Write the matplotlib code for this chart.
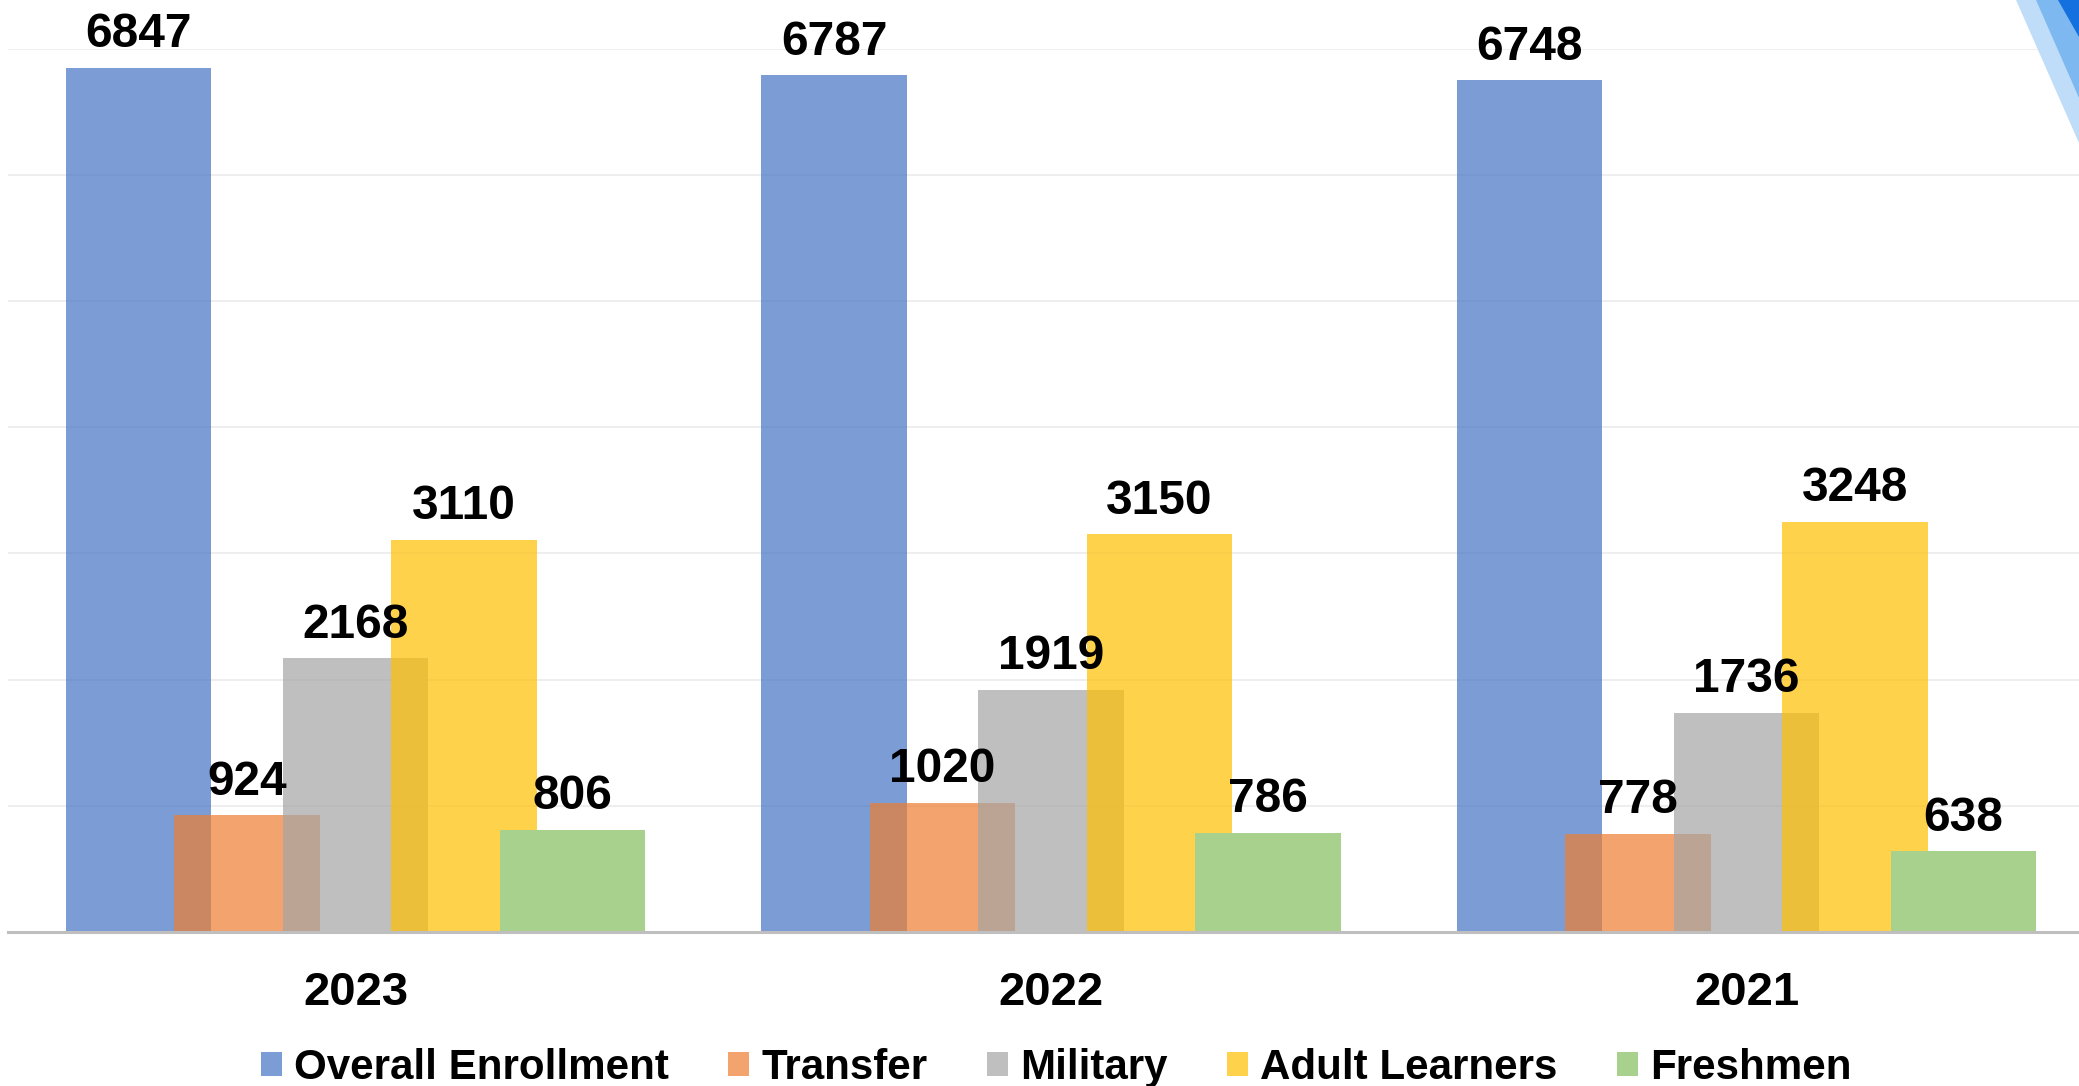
import numpy as np
import matplotlib.pyplot as plt
from matplotlib.patches import Polygon

# data
years = ["2023", "2022", "2021"]
series = ["Overall Enrollment", "Transfer", "Military", "Adult Learners", "Freshmen"]
overall = [6847, 6787, 6748]
transfer = [924, 1020, 778]
military = [2168, 1919, 1736]
adult = [3110, 3150, 3248]
freshmen = [806, 786, 638]

colors = ["#4472C4", "#ED7D31", "#A5A5A5", "#FFC000", "#A9D18E"]
alphas = [0.7, 0.7, 0.7, 0.7, 1.0]

plt.rcParams['font.family'] = ['Liberation Sans', 'DejaVu Sans']
plt.rcParams['font.weight'] = 'bold'

W, H = 2079, 1086
fig = plt.figure(figsize=(W / 100, H / 100), dpi=100)
ax = fig.add_axes([7.75 / W, (H - 932) / H, 2086.5 / W, 883.4 / H])

x = np.arange(len(years))
step = 0.156
width = 0.2085
values = [overall, transfer, military, adult, freshmen]

for i, (name, vals) in enumerate(zip(series, values)):
    pos = x + (i - 2) * step
    bars = ax.bar(pos, vals, width, color=colors[i], alpha=alphas[i], label=name,
                  zorder=2 + i, linewidth=0)
    for b, v in zip(bars, vals):
        ax.annotate(str(v), (b.get_x() + b.get_width() / 2, v),
                    xytext=(0, 15), textcoords='offset points',
                    ha='center', va='baseline', fontsize=34.5,
                    fontweight='bold', zorder=10, annotation_clip=False)

ax.set_xlim(-0.5, 2.5)
ax.set_ylim(0, 7000)
ax.set_yticks(range(0, 7001, 1000))
ax.yaxis.grid(True, color='#EDEDED', linewidth=1.3, zorder=0)
ax.set_axisbelow(True)
ax.tick_params(axis='y', left=False, labelleft=False)
ax.set_xticks(x)
ax.set_xticklabels(years, fontsize=34, fontweight='bold')
ax.tick_params(axis='x', length=0, pad=28)
for s in ['top', 'right', 'left']:
    ax.spines[s].set_visible(False)
ax.spines['bottom'].set_color('#BFBFBF')
ax.spines['bottom'].set_linewidth(2.2)
ax.spines['bottom'].set_zorder(20)

fig.legend(loc='center', bbox_to_anchor=(1056 / W, (H - 1068) / H), ncol=5,
           frameon=False, prop={'size': 30.3, 'weight': 'bold'},
           handlelength=0.5, handleheight=0.52, handletextpad=0.28,
           columnspacing=1.42, borderpad=0, borderaxespad=0)

# decorative stripes in the top right corner
def px(pts):
    return [(a / W, 1 - b / H) for a, b in pts]

stripes = [
    ("#BFDDF8", [(2016, 0), (2079, 0), (2079, 143)]),
    ("#7DB8F0", [(2036, 0), (2079, 0), (2079, 98)]),
    ("#1570DF", [(2058, 0), (2079, 0), (2079, 37)]),
]
for c, pts in stripes:
    fig.patches.append(Polygon(px(pts), closed=True, transform=fig.transFigure,
                               facecolor=c, edgecolor='none', zorder=30))

fig.savefig("out.png", dpi=100)
